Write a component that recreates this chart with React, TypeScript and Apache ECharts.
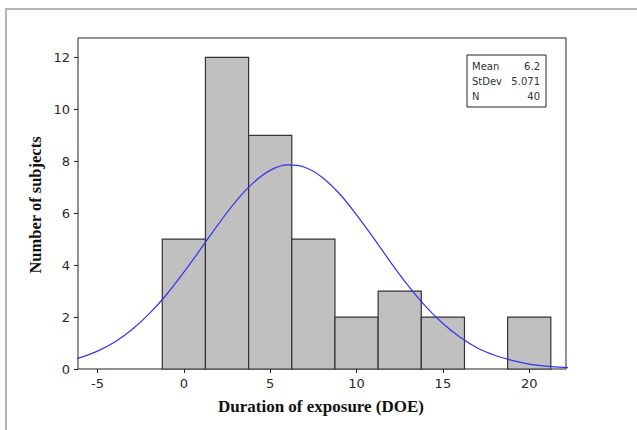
import React, { useEffect, useRef } from "react";
import * as echarts from "echarts";

// Histogram bins (width 2.5) and counts
const binCenters = [0, 2.5, 5, 7.5, 10, 12.5, 15, 17.5, 20];
const counts = [5, 12, 9, 5, 2, 3, 2, 0, 2];
const binWidth = 2.5;

// Fitted normal curve points
const curveX = [-7, -6, -5, -4, -3, -2, -1, 0, 1, 2, 3, 4, 5, 6, 7, 8, 9, 10, 11, 12, 13, 14, 15, 16, 17, 18, 19, 20, 21, 22, 23];
const curveY = [0.27, 0.44, 0.69, 1.04, 1.52, 2.13, 2.87, 3.73, 4.65, 5.58, 6.45, 7.16, 7.65, 7.86, 7.77, 7.39, 6.76, 5.94, 5.03, 4.09, 3.2, 2.41, 1.75, 1.22, 0.81, 0.53, 0.33, 0.19, 0.11, 0.06, 0.03];

const xTicks = [-5, 0, 5, 10, 15, 20];
const yTicks = [0, 2, 4, 6, 8, 10, 12];

const statLabels = ["Mean", "StDev", "N"];
const statValues = ["6.2", "5.071", "40"];

export default function App() {
  const ref = useRef<HTMLDivElement>(null);
  useEffect(() => {
    if (!ref.current) return;
    const chart = echarts.init(ref.current, undefined, { renderer: "svg" });
    const barData = binCenters.map((c, i) => [c - binWidth / 2, c + binWidth / 2, counts[i]]);
    const statTexts: any[] = [];
    statLabels.forEach((l, i) => {
      statTexts.push({
        type: "text",
        x: 472,
        y: 66 + i * 15.3,
        style: { text: l, font: "10px 'DejaVu Sans'", fill: "#333", textVerticalAlign: "middle" },
      });
      statTexts.push({
        type: "text",
        x: 540,
        y: 66 + i * 15.3,
        style: { text: statValues[i], font: "10px 'DejaVu Sans'", fill: "#333", textAlign: "right", textVerticalAlign: "middle" },
      });
    });
    chart.setOption({
      animation: false,
      grid: {
        left: 78,
        right: 71,
        top: 38,
        bottom: 61,
        show: true,
        borderColor: "#222",
        borderWidth: 1,
        backgroundColor: "#fff",
      },
      xAxis: {
        type: "value",
        min: -6.13,
        max: 22.13,
        axisLine: { show: false, onZero: false },
        splitLine: { show: false },
        axisTick: { show: true, length: 4, lineStyle: { color: "#222" }, customValues: xTicks },
        axisLabel: {
          margin: 8,
          color: "#2a2a2a",
          fontFamily: "DejaVu Sans",
          fontSize: 13,
          customValues: xTicks,
        },
      },
      yAxis: {
        type: "value",
        min: 0,
        max: 12.75,
        axisLine: { show: false, onZero: false },
        splitLine: { show: false },
        axisTick: { show: true, length: 4, lineStyle: { color: "#222" }, customValues: yTicks },
        axisLabel: {
          margin: 8,
          color: "#2a2a2a",
          fontFamily: "DejaVu Sans",
          fontSize: 13,
          customValues: yTicks,
        },
      },
      series: [
        {
          type: "custom",
          data: barData,
          encode: { x: [0, 1], y: 2 },
          renderItem: (params: any, api: any) => {
            const x0 = api.value(0);
            const x1 = api.value(1);
            const v = api.value(2);
            if (!v) return null;
            const p0 = api.coord([x0, 0]);
            const p1 = api.coord([x1, v]);
            return {
              type: "rect",
              shape: { x: p0[0], y: p1[1], width: p1[0] - p0[0], height: p0[1] - p1[1] },
              style: { fill: "#c0c0c0", stroke: "#333", lineWidth: 1.2 },
            };
          },
          z: 2,
        },
        {
          type: "line",
          data: curveX.map((x, i) => [x, curveY[i]]),
          smooth: 0.35,
          showSymbol: false,
          clip: true,
          lineStyle: { color: "#3333ee", width: 1.2 },
          z: 3,
        },
      ],
      graphic: [
        {
          type: "rect",
          shape: { x: 6, y: 9, width: 700, height: 500 },
          style: { fill: "none", stroke: "#b4b4b4", lineWidth: 2 },
          z: -10,
        },
        {
          type: "rect",
          shape: { x: 467, y: 55, width: 79, height: 52 },
          style: { fill: "#fff", stroke: "#222", lineWidth: 1 },
          z: 10,
        },
        ...statTexts.map((t) => ({ ...t, z: 11 })),
        {
          type: "text",
          x: 321,
          y: 406,
          style: {
            text: "Duration of exposure (DOE)",
            font: "bold 17px 'Liberation Serif'",
            fill: "#111",
            textAlign: "center",
            textVerticalAlign: "middle",
          },
        },
        {
          type: "text",
          x: 35,
          y: 205,
          rotation: Math.PI / 2,
          style: {
            text: "Number of subjects",
            font: "bold 16.5px 'Liberation Serif'",
            fill: "#111",
            textAlign: "center",
            textVerticalAlign: "middle",
          },
        },
      ],
    });
    return () => chart.dispose();
  }, []);
  return <div ref={ref} style={{ width: 637, height: 430, position: "absolute", left: 0, top: 0 }} />;
}
